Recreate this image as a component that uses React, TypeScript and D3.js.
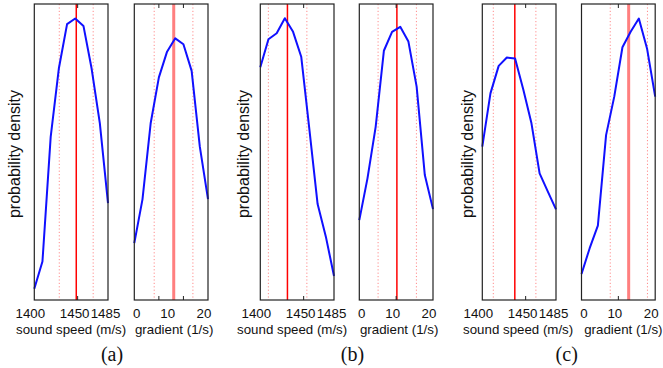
import React from "react";
import * as d3 from "d3";

// Bin centres of the two histogram grids
const soundBins = [1400, 1409.4, 1418.9, 1428.3, 1437.8, 1447.2, 1456.7, 1466.1, 1475.6, 1485];
const gradBins = [0, 2.22, 4.44, 6.67, 8.89, 11.11, 13.33, 15.56, 17.78, 20];

// Probability density per case
const soundA = [0.038, 0.13, 0.551, 0.782, 0.932, 0.951, 0.926, 0.782, 0.597, 0.327];
const gradA = [0.192, 0.34, 0.597, 0.752, 0.839, 0.884, 0.864, 0.774, 0.518, 0.341];
const soundB = [0.786, 0.881, 0.901, 0.952, 0.906, 0.822, 0.574, 0.324, 0.214, 0.081];
const gradB = [0.27, 0.411, 0.585, 0.842, 0.906, 0.923, 0.873, 0.721, 0.422, 0.307];
const soundC = [0.518, 0.698, 0.791, 0.819, 0.816, 0.712, 0.597, 0.428, 0.366, 0.306];
const gradC = [0.088, 0.175, 0.251, 0.557, 0.687, 0.854, 0.906, 0.951, 0.85, 0.687];

// Estimate and bounds: [mean, low, high]
const soundEst = [
  [1448.4, 1428.8, 1467.9],
  [1431.3, 1409.3, 1453.7],
  [1437.5, 1412.7, 1461.8],
];
const gradEst = [
  [10.7, 5.4, 15.9],
  [10.2, 5.1, 15.5],
  [12.8, 7.8, 17.9],
];

const soundTickLabels = [1400, 1450, 1485];
const soundTickMarks = [1450];
const gradTickLabels = [0, 10, 20];
const gradTickMarks = [[20 / 3, 40 / 3], [10], [10]];
const panelLabels = ["(a)", "(b)", "(c)"];

const soundSeries = [soundA, soundB, soundC];
const gradSeries = [gradA, gradB, gradC];

// Layout
const W = 663;
const H = 368;
const top = 4;
const bottom = 300;
const boxW = 73.7;
const soundLeft = [34.3, 260.3, 482.3];
const gradLeft = [134.3, 359.3, 581.5];
const yLabelX = [19.5, 248.5, 472.7];
const panelLabelX = [112, 352.5, 566.7];
const soundLabelNudge = [-4, -3, -2.5];
const gradLabelNudge = [2.5, -3.5, -4];
const soundTitleNudge = [0, -5, -1];
const gradTitleNudge = [3, 3, 5];
const gradMeanStyle = [
  { stroke: "#ff7f7f", width: 3 },
  { stroke: "#ff0000", width: 1.5 },
  { stroke: "#ff7f7f", width: 3 },
];

const sans = "'Liberation Sans', Arial, Helvetica, sans-serif";
const serif = "'Liberation Serif', 'Times New Roman', serif";

const y = d3.scaleLinear().domain([0, 1]).range([bottom, top]);

type BoxProps = {
  left: number;
  domain: [number, number];
  bins: number[];
  values: number[];
  est: number[];
  tickLabels: number[];
  labelNudge: number[];
  tickMarks: number[];
  meanStroke: string;
  meanWidth: number;
  title: string;
  titleNudge: number;
};

function Box({
  left,
  domain,
  bins,
  values,
  est,
  tickLabels,
  labelNudge,
  tickMarks,
  meanStroke,
  meanWidth,
  title,
  titleNudge,
}: BoxProps) {
  const x = d3.scaleLinear().domain(domain).range([left, left + boxW]);
  const line = d3
    .line<number>()
    .x((_, i) => x(bins[i]))
    .y((v) => y(v));
  const [mean, lo, hi] = est;
  return (
    <g>
      {[lo, hi].map((v, i) => (
        <line
          key={"b" + i}
          x1={x(v)}
          x2={x(v)}
          y1={top}
          y2={bottom}
          stroke="#ff8c8c"
          strokeWidth={1}
          strokeDasharray="1.2,2.2"
        />
      ))}
      <line x1={x(mean)} x2={x(mean)} y1={top} y2={bottom} stroke={meanStroke} strokeWidth={meanWidth} />
      <path d={line(values) || ""} fill="none" stroke="#1010ff" strokeWidth={2} strokeLinejoin="round" />
      {tickMarks.map((t, i) => (
        <g key={"t" + i}>
          <line x1={x(t)} x2={x(t)} y1={top} y2={top + 4} stroke="#222" strokeWidth={1} />
          <line x1={x(t)} x2={x(t)} y1={bottom} y2={bottom - 4} stroke="#222" strokeWidth={1} />
        </g>
      ))}
      <rect x={left} y={top} width={boxW} height={bottom - top} fill="none" stroke="#222" strokeWidth={1.2} />
      {tickLabels.map((t, i) => (
        <text
          key={"l" + i}
          x={x(t) + labelNudge[i]}
          y={318}
          textAnchor="middle"
          fontFamily={sans}
          fontSize={13.3}
          fill="#111"
        >
          {t}
        </text>
      ))}
      <text
        x={left + boxW / 2 + titleNudge}
        y={334}
        textAnchor="middle"
        fontFamily={sans}
        fontSize={13.3}
        fill="#111"
      >
        {title}
      </text>
    </g>
  );
}

export default function App() {
  return (
    <svg
      width={W}
      height={H}
      viewBox={`0 0 ${W} ${H}`}
      style={{ position: "absolute", left: 0, top: 0, background: "#fff" }}
    >
      {panelLabels.map((lab, p) => (
        <g key={lab}>
          <text
            transform={`translate(${yLabelX[p]},154) rotate(-90)`}
            textAnchor="middle"
            fontFamily={sans}
            fontSize={16}
            fill="#111"
          >
            probability density
          </text>
          <Box
            left={soundLeft[p]}
            domain={[1400, 1485]}
            bins={soundBins}
            values={soundSeries[p]}
            est={soundEst[p]}
            tickLabels={soundTickLabels}
            labelNudge={soundLabelNudge}
            tickMarks={soundTickMarks}
            meanStroke="#ff0000"
            meanWidth={1.5}
            title="sound speed (m/s)"
            titleNudge={soundTitleNudge[p]}
          />
          <Box
            left={gradLeft[p]}
            domain={[0, 20]}
            bins={gradBins}
            values={gradSeries[p]}
            est={gradEst[p]}
            tickLabels={gradTickLabels}
            labelNudge={gradLabelNudge}
            tickMarks={gradTickMarks[p]}
            meanStroke={gradMeanStyle[p].stroke}
            meanWidth={gradMeanStyle[p].width}
            title="gradient (1/s)"
            titleNudge={gradTitleNudge[p]}
          />
          <text x={panelLabelX[p]} y={361} textAnchor="middle" fontFamily={serif} fontSize={20} fill="#111">
            {lab}
          </text>
        </g>
      ))}
    </svg>
  );
}
